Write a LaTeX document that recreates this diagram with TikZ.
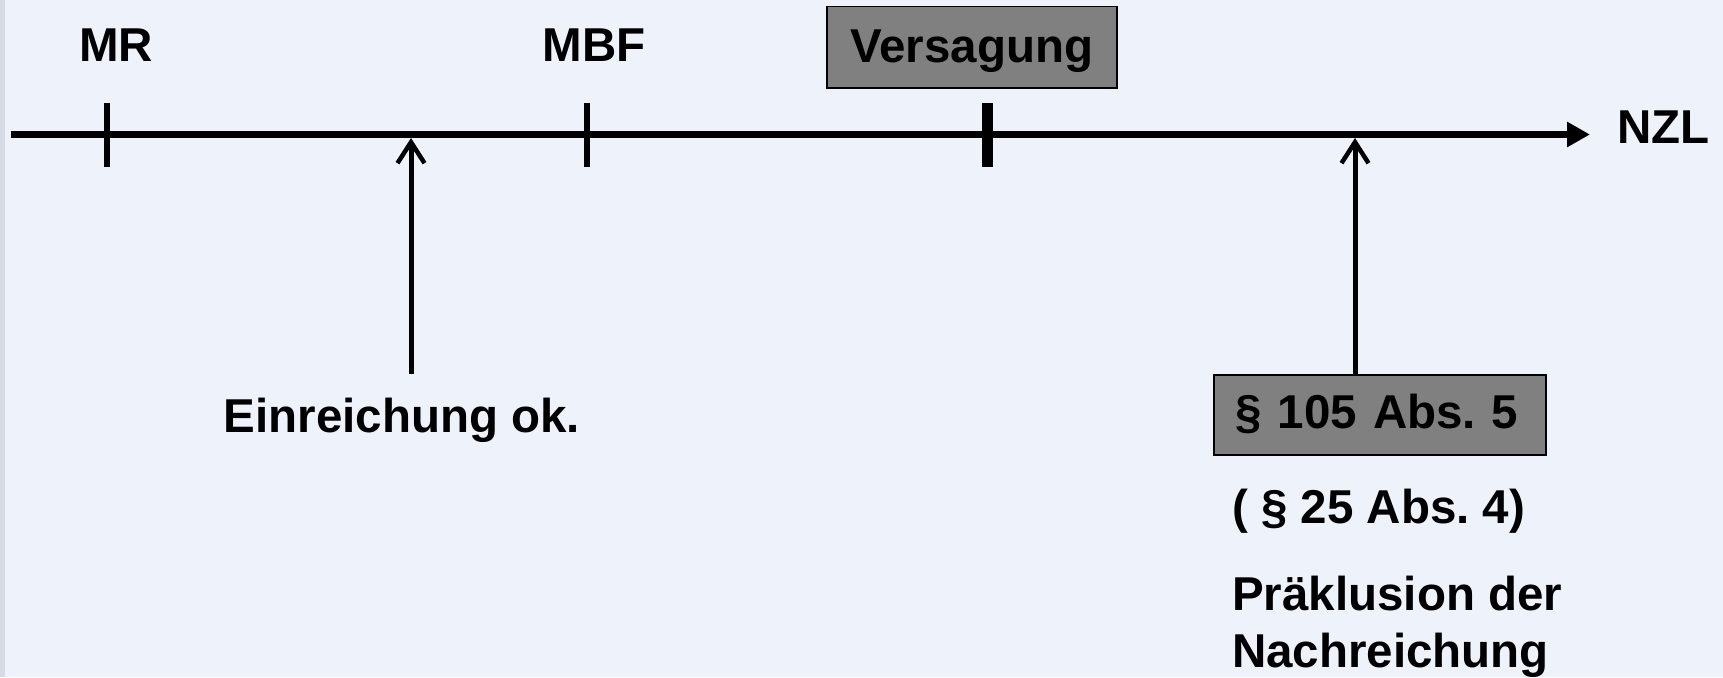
\documentclass[tikz,border=0pt]{standalone}
\usepackage{fontspec}
\setmainfont{Liberation Sans}
\usetikzlibrary{arrows.meta}
\definecolor{bgcol}{HTML}{EEF2FA}
\definecolor{stripcol}{HTML}{D6DAE6}
\definecolor{boxgray}{HTML}{808080}
\frenchspacing
\begin{document}
\begin{tikzpicture}[x=1pt,y=-1pt,
  lbl/.style={font=\fontsize{47.5}{56}\selectfont\bfseries, inner sep=0pt},
  tick/.style={line width=6pt},
  bigtick/.style={line width=11pt},
  axis/.style={line width=7pt,-{Triangle[length=23pt,width=24pt]}},
  uparrow/.style={line width=5pt,-{Straight Barb[length=21pt,width=27pt,line width=4.5pt]}},
  graybox/.style={draw=black, line width=1.5pt, fill=boxgray, inner ysep=0pt,
     font=\fontsize{47.5}{56}\selectfont\bfseries}
]
\useasboundingbox (0,0) rectangle (1723,677);
\fill[bgcol] (0,0) rectangle (1723,677);
\fill[stripcol] (0,0) rectangle (5,677);

% axis
\coordinate (a0) at (11,134.5);
\coordinate (a1) at (1590,134.5);
\draw[axis] (a0) -- (a1);
\node[lbl, anchor=base west] (nzl) at (1617,143) {NZL};

% ticks
\coordinate (mrT) at (107,103); \coordinate (mrB) at (107,167);
\draw[tick] (mrT) -- (mrB);
\coordinate (mbfT) at (587,103); \coordinate (mbfB) at (587,167);
\draw[tick] (mbfT) -- (mbfB);
\coordinate (vT) at (987,103); \coordinate (vB) at (987,167);
\draw[bigtick] (vT) -- (vB);

% top labels
\node[lbl, anchor=base] (mr) at (116,62) {MR};
\node[lbl, anchor=base] (mbf) at (594,62) {MBF};
\node[graybox, minimum width=290pt, inner xsep=0pt, text height=56pt, text depth=25pt,
      anchor=north west] (vers) at (826,6) {\makebox[290pt]{Versagung}};

% left arrow
\coordinate (e1) at (411,374);
\coordinate (t1) at (411,138);
\draw[uparrow] (e1) -- (t1);
\node[lbl, anchor=base] (einr) at (402,432) {Einreichung ok.};

% right arrow + box
\node[graybox, anchor=north west, inner xsep=22pt, text width=288pt, align=left,
      text height=54pt, text depth=26pt] (p105) at (1213,374) {§ 105 Abs. 5};
\coordinate (t2) at (1355,138);
\draw[uparrow] (p105.north -| t2) -- (t2);

\node[lbl, anchor=base west] (p25) at (1232,523) {( § 25 Abs. 4)};
\node[lbl, anchor=base west] (prae) at (1232,610) {Präklusion der};
\node[lbl, anchor=base west] (nach) at (1232,667) {Nachreichung};
\end{tikzpicture}
\end{document}
